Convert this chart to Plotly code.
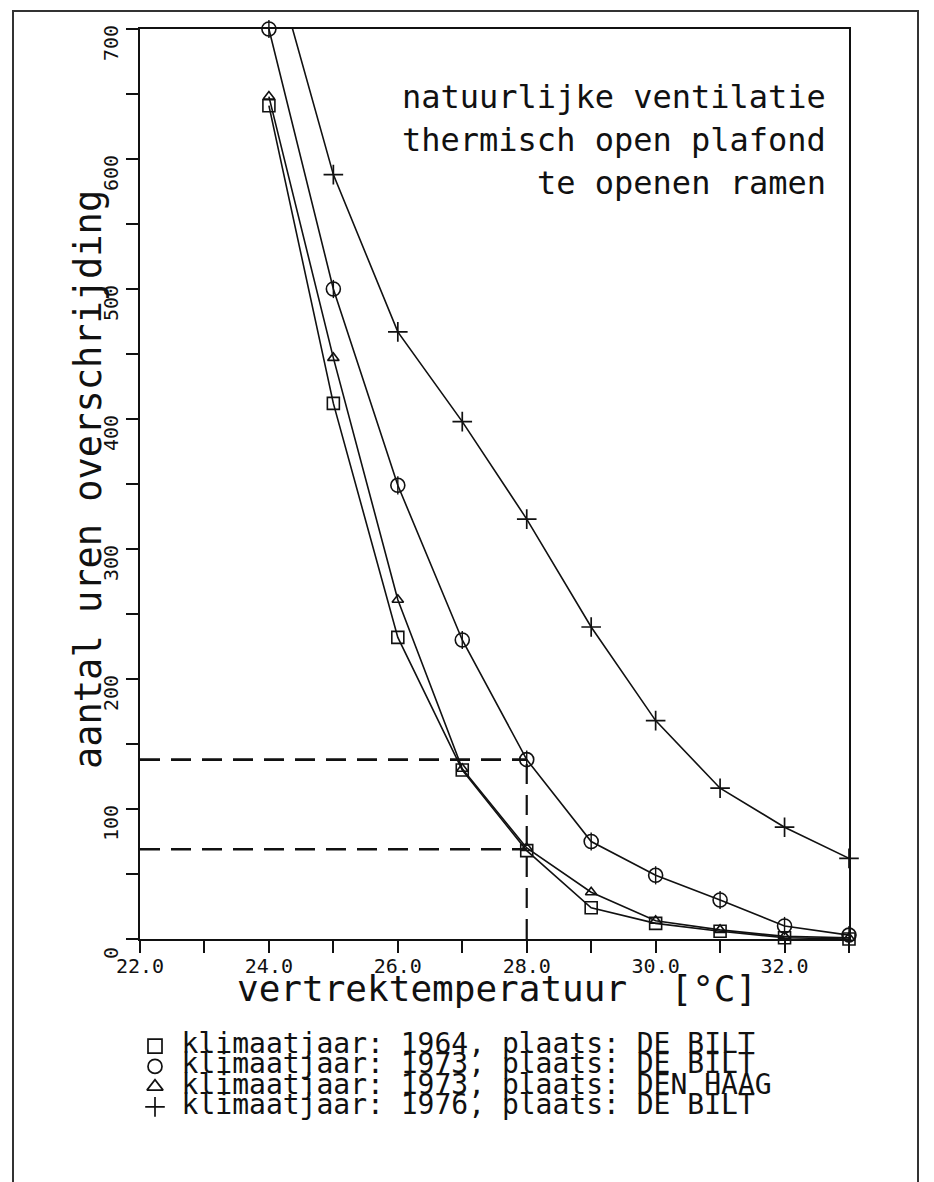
import plotly.graph_objects as go

# ---------------- data ----------------
temps = [24, 25, 26, 27, 28, 29, 30, 31, 32, 33]
uren_1964_debilt = [641, 412, 232, 130, 68, 24, 12, 6, 1, 0]
uren_1973_debilt = [700, 500, 349, 230, 138, 75, 49, 30, 10, 3]
uren_1973_denhaag = [648, 447, 261, 131, 70, 36, 14, 7, 2, 1]
uren_1976_debilt = [765, 588, 467, 398, 323, 240, 168, 116, 86, 62]

legend_labels = [
    "klimaatjaar: 1964, plaats: DE BILT",
    "klimaatjaar: 1973, plaats: DE BILT",
    "klimaatjaar: 1973, plaats: DEN HAAG",
    "klimaatjaar: 1976, plaats: DE BILT",
]
title_lines = ["natuurlijke ventilatie", "thermisch open plafond", "te openen ramen"]
x_title = "vertrektemperatuur  [°C]"
y_title = "aantal uren overschrijding"

ref_temp = 28.0
ref_levels = [138, 69]

x_ticks = [22, 24, 26, 28, 30, 32]
y_ticks = [0, 100, 200, 300, 400, 500, 600, 700]

# ---------------- layout constants ----------------
W, H = 934, 1182
FONT = "DejaVu Sans Mono, Liberation Mono, monospace"
INK = "#111111"
PX_L, PX_R, PX_T, PX_B = 140, 849, 29, 939
Y_MAX = 700


def px_x(p):
    return p / W


def px_y(p):
    return 1 - p / H


fig = go.Figure()

line_style = dict(color=INK, width=1.6)

# 1976: line clipped at the frame, markers only where inside the value range
fig.add_trace(go.Scatter(
    x=temps, y=uren_1976_debilt, mode="lines", line=line_style, showlegend=False,
))
vis = [(t, v) for t, v in zip(temps, uren_1976_debilt) if v <= Y_MAX]
fig.add_trace(go.Scatter(
    x=[t for t, _ in vis], y=[v for _, v in vis], mode="markers", cliponaxis=False,
    marker=dict(symbol="cross-thin-open", size=14, color=INK, line=dict(width=1.7, color=INK)),
    showlegend=False,
))
fig.add_trace(go.Scatter(
    x=temps, y=uren_1973_debilt, mode="lines+markers", cliponaxis=False,
    line=line_style,
    marker=dict(symbol="circle-open", size=14, color=INK, line=dict(width=1.6, color=INK)),
    showlegend=False,
))
fig.add_trace(go.Scatter(
    x=temps, y=uren_1973_debilt, mode="markers", cliponaxis=False,
    marker=dict(symbol="line-ns-open", size=13, color=INK, line=dict(width=1.4, color=INK)),
    showlegend=False,
))
fig.add_trace(go.Scatter(
    x=temps, y=uren_1973_denhaag, mode="lines+markers", cliponaxis=False,
    line=line_style,
    marker=dict(symbol="triangle-up-open", size=10, color=INK, line=dict(width=1.6, color=INK)),
    showlegend=False,
))
fig.add_trace(go.Scatter(
    x=temps, y=uren_1964_debilt, mode="lines+markers", cliponaxis=False,
    line=line_style,
    marker=dict(symbol="square-open", size=12, color=INK, line=dict(width=1.6, color=INK)),
    showlegend=False,
))

# legend block drawn on a hidden helper axis (rows 0..3)
leg_symbols = ["square-open", "circle-open", "triangle-up-open", "cross-thin-open"]
rows = list(range(len(legend_labels)))
fig.add_trace(go.Scatter(
    x=[0] * len(rows), y=rows, xaxis="x2", yaxis="y2",
    mode="markers+text", text=[" " + t for t in legend_labels], textposition="middle right",
    textfont=dict(family=FONT, size=28, color=INK),
    marker=dict(symbol=leg_symbols, size=14, color=INK, line=dict(width=1.7, color=INK)),
    cliponaxis=False, showlegend=False, hoverinfo="skip",
))

# dashed reference lines
dash = "20px,11px"
for lvl in ref_levels:
    fig.add_shape(type="line", xref="x", yref="y", x0=22, x1=ref_temp, y0=lvl, y1=lvl,
                  line=dict(color=INK, width=2.6, dash=dash))
fig.add_shape(type="line", xref="x", yref="y", x0=ref_temp, x1=ref_temp, y0=0, y1=max(ref_levels),
              line=dict(color=INK, width=2.2, dash=dash))

# outer frame of the scanned page
fig.add_shape(type="rect", xref="paper", yref="paper",
              x0=px_x(13), x1=px_x(918), y0=-0.05, y1=px_y(11),
              line=dict(color="#333333", width=2), layer="below")

# text block top right
for i, t in enumerate(title_lines):
    fig.add_annotation(xref="paper", yref="paper", x=px_x(828), y=px_y(97 + 43 * i),
                       xanchor="right", yanchor="middle", text=t, showarrow=False,
                       font=dict(family=FONT, size=32, color=INK))

# axis titles
fig.add_annotation(xref="paper", yref="paper", x=px_x(497), y=px_y(988),
                   xanchor="center", yanchor="middle", text=x_title, showarrow=False,
                   font=dict(family=FONT, size=36, color=INK))
fig.add_annotation(xref="paper", yref="paper", x=px_x(88), y=px_y(480),
                   xanchor="center", yanchor="middle", text=y_title, showarrow=False,
                   textangle=-90, font=dict(family=FONT, size=37, color=INK))

axis_common = dict(showline=True, linecolor=INK, linewidth=2, mirror=True,
                   showgrid=False, zeroline=False, ticks="outside", ticklen=12,
                   tickwidth=2, tickcolor=INK, automargin=False,
                   tickfont=dict(family=FONT, size=20, color=INK))

fig.update_layout(
    width=W, height=H,
    margin=dict(l=0, r=0, t=0, b=0),
    paper_bgcolor="white", plot_bgcolor="white",
    xaxis=dict(domain=[px_x(PX_L), px_x(PX_R)], range=[22, 33], anchor="y",
               tickmode="array", tickvals=x_ticks, ticktext=[f"{v:.1f}" for v in x_ticks],
               ticklabelstandoff=-4,
               minor=dict(dtick=1, tick0=22, ticks="outside", ticklen=12, tickwidth=2, tickcolor=INK),
               **axis_common),
    yaxis=dict(domain=[px_y(PX_B), px_y(PX_T)], range=[0, Y_MAX], anchor="x",
               tickmode="array", tickvals=y_ticks, ticktext=[str(v) for v in y_ticks],
               tickangle=-90, ticklabelshift=17,
               minor=dict(dtick=50, tick0=0, ticks="outside", ticklen=12, tickwidth=2, tickcolor=INK),
               **axis_common),
    xaxis2=dict(domain=[px_x(155), 1], range=[0, 1], visible=False, anchor="y2", fixedrange=True),
    yaxis2=dict(domain=[px_y(1117), px_y(1036)], range=[3.5, -0.5], visible=False, anchor="x2",
                fixedrange=True),
    showlegend=False,
)

fig.write_html("out.html", config={"displayModeBar": False},
               post_script="document.body.style.margin='0px';")
